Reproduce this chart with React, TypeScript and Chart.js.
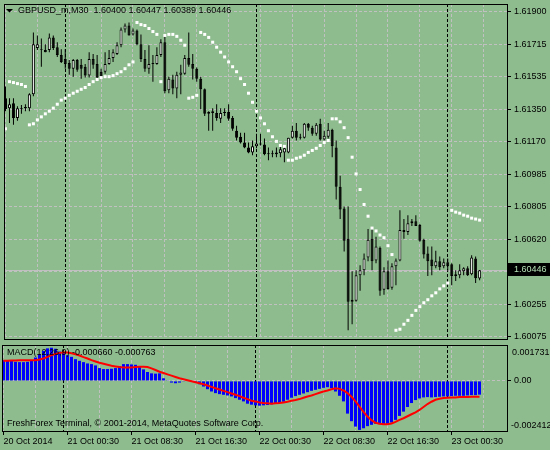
import React, { useEffect, useRef } from 'react';
import { Chart, registerables } from 'chart.js';

Chart.register(...registerables);

// ---------------- data ----------------
const titleText = 'GBPUSD_m,M30  1.60400 1.60447 1.60389 1.60446';
const macdTitle = 'MACD(12,26,9) -0.000660 -0.000763';
const copyright = 'FreshForex Terminal, \u00A9 2001-2014, MetaQuotes Software Corp.';

const xLabelIndex = [0, 16, 32, 48, 64, 80, 96, 112];
const xLabelText = ['20 Oct 2014', '21 Oct 00:30', '21 Oct 08:30', '21 Oct 16:30', '22 Oct 00:30', '22 Oct 08:30', '22 Oct 16:30', '23 Oct 00:30'];
const gridIndex = [0, 8, 16, 24, 32, 40, 48, 56, 64, 72, 80, 88, 96, 104, 112, 120];
const daySeparatorIndex = [15, 63, 111];
const xMin = -0.375;
const xMax = 125.875;

const priceTicks = [1.619, 1.61715, 1.61535, 1.6135, 1.6117, 1.60985, 1.60805, 1.6062, 1.6044, 1.60255, 1.60075];
const priceMin = 1.60059;
const priceMax = 1.61944;
const bidPrice = 1.60446;

const macdMax = 0.001731;
const macdMin = -0.002412;
const macdTicks = [0];

const opens = [
  1.61414, 1.61358, 1.61386, 1.61303, 1.61358, 1.61358, 1.61358, 1.61436, 1.61696, 1.6169,
  1.61685, 1.61685, 1.61756, 1.61701, 1.61657, 1.61635, 1.61612, 1.6158, 1.61629, 1.61602,
  1.61591, 1.61541, 1.61635, 1.61607, 1.61563, 1.61563, 1.61607, 1.6164, 1.61662, 1.61712,
  1.61801, 1.61823, 1.61773, 1.61795, 1.61718, 1.61635, 1.6158, 1.61607, 1.61607, 1.61657,
  1.61729, 1.61458, 1.61519, 1.61468, 1.61546, 1.61552, 1.6164, 1.61607, 1.6158, 1.61524,
  1.61464, 1.61326, 1.6133, 1.6133, 1.61298, 1.61336, 1.61336, 1.61303, 1.61231, 1.61197,
  1.61165, 1.61137, 1.61109, 1.61143, 1.61159, 1.61154, 1.61104, 1.61104, 1.61098, 1.61104,
  1.61109, 1.61109, 1.61192, 1.61231, 1.61192, 1.61192, 1.6127, 1.61248, 1.61214, 1.6127,
  1.61182, 1.61197, 1.61236, 1.61137, 1.60915, 1.60794, 1.60623, 1.6028, 1.60274, 1.60418,
  1.60446, 1.60517, 1.60623, 1.60501, 1.60573, 1.60336, 1.6044, 1.60347, 1.60468, 1.60501,
  1.60672, 1.60661, 1.60711, 1.60722, 1.607, 1.60618, 1.6054, 1.60506, 1.60468, 1.60496,
  1.60468, 1.60491, 1.60479, 1.60413, 1.60418, 1.6044, 1.60457, 1.60424, 1.60512, 1.604,
];
const highs = [
  1.6148, 1.61414, 1.61414, 1.61369, 1.61375, 1.6138, 1.61442, 1.61784, 1.61767, 1.6175,
  1.61718, 1.61778, 1.61767, 1.61729, 1.6169, 1.6169, 1.61629, 1.61635, 1.61635, 1.61635,
  1.61607, 1.61673, 1.61662, 1.61657, 1.6158, 1.61673, 1.61685, 1.6169, 1.61729, 1.61812,
  1.61834, 1.6184, 1.61806, 1.61801, 1.61773, 1.61685, 1.61712, 1.61657, 1.61701, 1.61745,
  1.61773, 1.61535, 1.61546, 1.61563, 1.61602, 1.61657, 1.61784, 1.61662, 1.61586, 1.61535,
  1.61468, 1.61341, 1.61358, 1.6138, 1.61358, 1.61358, 1.6138, 1.61314, 1.61259, 1.6122,
  1.6122, 1.61165, 1.61176, 1.61214, 1.61214, 1.61187, 1.61137, 1.6112, 1.61137, 1.61148,
  1.61148, 1.61192, 1.61259, 1.61275, 1.61214, 1.61275, 1.61275, 1.61259, 1.61275, 1.61298,
  1.61231, 1.61275, 1.61242, 1.61176, 1.60977, 1.60805, 1.60805, 1.6044, 1.60446, 1.60474,
  1.6054, 1.60678, 1.60678, 1.60634, 1.60579, 1.60463, 1.60501, 1.60485, 1.60512, 1.60783,
  1.60734, 1.60756, 1.60734, 1.60756, 1.60706, 1.60623, 1.60579, 1.60579, 1.60556, 1.60523,
  1.60512, 1.60512, 1.60485, 1.60446, 1.60479, 1.60463, 1.60468, 1.6053, 1.60523, 1.60447,
];
const lows = [
  1.61341, 1.61275, 1.61264, 1.61287, 1.61326, 1.61341, 1.61341, 1.61425, 1.61685, 1.61591,
  1.61673, 1.61673, 1.61685, 1.61646, 1.61612, 1.6158, 1.61546, 1.61535, 1.61563, 1.61524,
  1.6153, 1.6153, 1.6158, 1.61519, 1.6153, 1.61552, 1.61602, 1.61618, 1.61657, 1.61701,
  1.61784, 1.61767, 1.61767, 1.61712, 1.61618, 1.61563, 1.61552, 1.61507, 1.61602, 1.61646,
  1.61442, 1.61442, 1.61436, 1.61414, 1.61436, 1.61546, 1.61591, 1.61519, 1.61507, 1.61352,
  1.61314, 1.61231, 1.61231, 1.61287, 1.61275, 1.61314, 1.61287, 1.61231, 1.61176, 1.61159,
  1.61132, 1.61104, 1.61093, 1.61132, 1.61148, 1.61093, 1.61065, 1.61082, 1.61082, 1.61082,
  1.61054, 1.61104, 1.61187, 1.61176, 1.61182, 1.61187, 1.61231, 1.61203, 1.61203, 1.61176,
  1.61176, 1.61187, 1.61082, 1.60844, 1.60734, 1.60551, 1.60108, 1.60142, 1.60269, 1.6033,
  1.60418, 1.60496, 1.60446, 1.60485, 1.60302, 1.60308, 1.60336, 1.60336, 1.60362, 1.60496,
  1.60623, 1.60644, 1.60695, 1.60695, 1.60606, 1.60512, 1.60413, 1.60418, 1.60457, 1.60446,
  1.60457, 1.6044, 1.60362, 1.60385, 1.60401, 1.60418, 1.60413, 1.60418, 1.60374, 1.60389,
];
const closes = [
  1.61352, 1.6138, 1.61303, 1.61358, 1.61352, 1.61364, 1.61436, 1.61718, 1.61718, 1.61685,
  1.61673, 1.61756, 1.61696, 1.61657, 1.61618, 1.61607, 1.6158, 1.61629, 1.61574, 1.6158,
  1.61541, 1.61635, 1.61602, 1.6153, 1.61535, 1.61607, 1.6164, 1.61673, 1.61712, 1.61801,
  1.61823, 1.61767, 1.61795, 1.61718, 1.61635, 1.6158, 1.61607, 1.61612, 1.61657, 1.61729,
  1.61453, 1.61524, 1.61468, 1.61546, 1.61558, 1.6164, 1.61602, 1.6158, 1.61524, 1.61464,
  1.61326, 1.61336, 1.61341, 1.61303, 1.6133, 1.6133, 1.61298, 1.61242, 1.61192, 1.61165,
  1.61137, 1.61109, 1.61143, 1.61159, 1.61154, 1.61098, 1.61098, 1.61098, 1.61109, 1.61126,
  1.61132, 1.61192, 1.61231, 1.61192, 1.61197, 1.6127, 1.61248, 1.61214, 1.61264, 1.61182,
  1.61203, 1.61236, 1.61143, 1.60915, 1.60788, 1.60612, 1.60269, 1.60269, 1.60418, 1.60446,
  1.60512, 1.60618, 1.60496, 1.60579, 1.6033, 1.6044, 1.60341, 1.60468, 1.60501, 1.60672,
  1.60661, 1.60711, 1.60722, 1.60695, 1.60612, 1.60534, 1.60496, 1.60468, 1.60496, 1.60463,
  1.60491, 1.60468, 1.60413, 1.60424, 1.60446, 1.60457, 1.60418, 1.60517, 1.60401, 1.60446,
];
const sar = [
  1.61242, 1.61507, 1.61502, 1.61496, 1.61491, 1.6148, 1.61264, 1.6127, 1.61292, 1.61309,
  1.61326, 1.61341, 1.61358, 1.6138, 1.61403, 1.61414, 1.6143, 1.61442, 1.61453, 1.61464,
  1.61474, 1.61491, 1.61507, 1.61519, 1.6153, 1.61535, 1.61535, 1.61541, 1.61552, 1.61563,
  1.6158, 1.61602, 1.61618, 1.6184, 1.61828, 1.61823, 1.61806, 1.61789, 1.61773, 1.61507,
  1.61767, 1.61773, 1.61773, 1.61762, 1.6174, 1.61712, 1.61414, 1.61419, 1.6143, 1.61784,
  1.61773, 1.61756, 1.61729, 1.61701, 1.61673, 1.61646, 1.61618, 1.61591, 1.61563, 1.61524,
  1.61491, 1.61442, 1.61391, 1.61341, 1.61303, 1.6127, 1.61231, 1.61197, 1.61171, 1.61148,
  1.61143, 1.61065, 1.61065, 1.61076, 1.61082, 1.61093, 1.61109, 1.6112, 1.61132, 1.61148,
  1.61165, 1.61176, 1.61298, 1.61298, 1.61281, 1.61248, 1.61192, 1.61082, 1.60988, 1.609,
  1.60816, 1.6075, 1.60683, 1.60667, 1.60644, 1.60629, 1.60584, 1.60534, 1.60108, 1.60114,
  1.60142, 1.60164, 1.60192, 1.6022, 1.60241, 1.60263, 1.6028, 1.60302, 1.60319, 1.60341,
  1.60358, 1.60374, 1.60783, 1.60773, 1.60767, 1.60756, 1.6075, 1.60739, 1.60734, 1.60728,
];
const macdMain = [
  0.001002, 0.001002, 0.00097, 0.000922, 0.000906, 0.000906, 0.000922, 0.001002, 0.001129, 0.001288,
  0.001447, 0.00157, 0.0016, 0.00155, 0.001415, 0.001352, 0.00124, 0.001161, 0.001049, 0.00097,
  0.000906, 0.000843, 0.000811, 0.000747, 0.00062, 0.000572, 0.000572, 0.000588, 0.00062, 0.000716,
  0.000811, 0.000811, 0.000795, 0.000779, 0.000684, 0.000557, 0.000429, 0.000366, 0.00035, 0.000366,
  0.000127, 0.000016, -0.00008, -0.000111, -0.00008, -0.000016, 0.000016, -0.000016, -0.000064, -0.000159,
  -0.00027, -0.000398, -0.000509, -0.000588, -0.000636, -0.000668, -0.0007, -0.000747, -0.000827, -0.000906,
  -0.000986, -0.001097, -0.001145, -0.001177, -0.001193, -0.001177, -0.001161, -0.001129, -0.001097, -0.001065,
  -0.001002, -0.000906, -0.000811, -0.000731, -0.000668, -0.000604, -0.000541, -0.000477, -0.000429, -0.000382,
  -0.000334, -0.000302, -0.00035, -0.000509, -0.000716, -0.000986, -0.001574, -0.00194, -0.0022, -0.00236,
  -0.00228, -0.002178, -0.002115, -0.002067, -0.002083, -0.002099, -0.002067, -0.002003, -0.001876, -0.001685,
  -0.001479, -0.001256, -0.001065, -0.000922, -0.000843, -0.000795, -0.000779, -0.000795, -0.000779, -0.000763,
  -0.000747, -0.000747, -0.000731, -0.000716, -0.000716, -0.000716, -0.0007, -0.000684, -0.000684, -0.00066,
];
const macdSignal = [
  0.00097, 0.00097, 0.000986, 0.000986, 0.001002, 0.001002, 0.001002, 0.001002, 0.001002, 0.001034,
  0.001081, 0.001161, 0.00124, 0.001304, 0.001352, 0.001367, 0.001367, 0.001336, 0.001288, 0.001224,
  0.001145, 0.001081, 0.001002, 0.000938, 0.000875, 0.000827, 0.000779, 0.000731, 0.0007, 0.000668,
  0.000652, 0.000652, 0.000652, 0.000668, 0.000684, 0.000684, 0.000668, 0.000604, 0.000525, 0.000445,
  0.000382, 0.000318, 0.000254, 0.000191, 0.000127, 0.00008, 0.000032, -0.000016, -0.000064, -0.000111,
  -0.000159, -0.000223, -0.000286, -0.00035, -0.000413, -0.000477, -0.000541, -0.000604, -0.000668, -0.000731,
  -0.000811, -0.000875, -0.000954, -0.000986, -0.001034, -0.001065, -0.001081, -0.001097, -0.001081, -0.001065,
  -0.001034, -0.001002, -0.000954, -0.000922, -0.000875, -0.000811, -0.000747, -0.0007, -0.000636, -0.000572,
  -0.000509, -0.000461, -0.000398, -0.00035, -0.000382, -0.000461, -0.000588, -0.000763, -0.000986, -0.00124,
  -0.001495, -0.001717, -0.001892, -0.002019, -0.002067, -0.002083, -0.002083, -0.002051, -0.001972, -0.001876,
  -0.001797, -0.001701, -0.001606, -0.001511, -0.001399, -0.001256, -0.001113, -0.001002, -0.000906, -0.000859,
  -0.000827, -0.000811, -0.000795, -0.000795, -0.000779, -0.000779, -0.000779, -0.000763, -0.000763, -0.000763,
];

// ---------------- style ----------------
const BG = '#8fbc8f';
const GRID = '#c0c0c0';
const FONT = "'Liberation Sans', Arial, sans-serif";
const FONT_PX = 9;

function makeX(showLabels: boolean): any {
  return {
    type: 'linear',
    min: xMin,
    max: xMax,
    offset: false,
    afterBuildTicks: (s: any) => {
      s.ticks = gridIndex.map((v) => ({ value: v }));
    },
    afterFit: (s: any) => {
      s.height = showLabels ? 19 : 0;
      s.paddingLeft = 0;
      s.paddingRight = 0;
    },
    grid: {
      offset: false,
      color: GRID,
      lineWidth: 1,
      drawTicks: showLabels,
      tickLength: 4,
      tickWidth: 1,
      tickColor: (c: any) => (c.tick && xLabelIndex.indexOf(c.tick.value) >= 0 ? '#000' : 'rgba(0,0,0,0)'),
    },
    border: { display: false, dash: [3, 2] },
    ticks: {
      display: showLabels,
      autoSkip: false,
      maxRotation: 0,
      minRotation: 0,
      align: 'start',
      padding: 1,
      color: '#000',
      font: { family: FONT, size: FONT_PX },
      callback: (v: any) => {
        const k = xLabelIndex.indexOf(Number(v));
        return k >= 0 ? xLabelText[k] : '';
      },
    },
  };
}

function drawSeparators(chart: any) {
  const { ctx, chartArea: a, scales } = chart;
  ctx.save();
  ctx.strokeStyle = '#000';
  ctx.lineWidth = 1;
  ctx.setLineDash([3, 2]);
  daySeparatorIndex.forEach((i) => {
    const x = Math.round(scales.x.getPixelForValue(i) - 0.5) + 0.5;
    ctx.beginPath();
    ctx.moveTo(x, a.top);
    ctx.lineTo(x, a.bottom);
    ctx.stroke();
  });
  ctx.restore();
}

function drawFrame(chart: any) {
  const { ctx, chartArea: a } = chart;
  ctx.save();
  ctx.strokeStyle = '#000';
  ctx.lineWidth = 1;
  ctx.setLineDash([]);
  ctx.strokeRect(a.left + 0.5, a.top + 0.5, a.right - a.left, a.bottom - a.top);
  ctx.restore();
}

const mainDecor = {
  id: 'mainDecor',
  beforeDatasetsDraw(chart: any) {
    drawSeparators(chart);
    const { ctx, chartArea: a, scales } = chart;
    const y = Math.round(scales.y.getPixelForValue(bidPrice) - 0.5) + 0.5;
    ctx.save();
    ctx.strokeStyle = GRID;
    ctx.lineWidth = 1;
    ctx.beginPath();
    ctx.moveTo(a.left, y);
    ctx.lineTo(a.right, y);
    ctx.stroke();
    ctx.restore();
  },
  afterDraw(chart: any) {
    drawFrame(chart);
    const { ctx, chartArea: a, scales } = chart;
    ctx.save();
    // bid label
    const y = Math.round(scales.y.getPixelForValue(bidPrice));
    ctx.fillStyle = '#000';
    ctx.fillRect(a.right, y - 7, chart.width - a.right, 13);
    ctx.fillStyle = '#b4e0b4';
    ctx.font = `${FONT_PX}px ${FONT}`;
    ctx.textBaseline = 'middle';
    ctx.textAlign = 'left';
    ctx.fillText(bidPrice.toFixed(5), a.right + 7, y);
    // title
    ctx.fillStyle = '#000';
    ctx.beginPath();
    ctx.moveTo(6, 9);
    ctx.lineTo(13, 9);
    ctx.lineTo(9.5, 12.5);
    ctx.closePath();
    ctx.fill();
    ctx.fillText(titleText, 18, 10.5);
    ctx.restore();
  },
};

const macdDecor = {
  id: 'macdDecor',
  beforeDatasetsDraw(chart: any) {
    drawSeparators(chart);
  },
  afterDraw(chart: any) {
    drawFrame(chart);
    const { ctx, chartArea: a } = chart;
    ctx.save();
    ctx.fillStyle = '#000';
    ctx.font = `${FONT_PX}px ${FONT}`;
    ctx.textBaseline = 'middle';
    ctx.textAlign = 'left';
    ctx.fillText(macdTitle, 7, a.top + 8);
    ctx.fillText(copyright, 7, a.bottom - 7.5);
    ctx.fillText(macdMax.toFixed(6), a.right + 5, a.top + 8);
    ctx.fillText(macdMin.toFixed(6), a.right + 4, a.bottom - 5);
    ctx.restore();
  },
};

export default function App() {
  const mainRef = useRef<HTMLCanvasElement>(null);
  const macdRef = useRef<HTMLCanvasElement>(null);

  useEffect(() => {
    Chart.defaults.font.family = FONT;
    Chart.defaults.font.size = FONT_PX;
    Chart.defaults.color = '#000';

    const common: any = {
      responsive: false,
      animation: false,
      devicePixelRatio: 1,
      events: [],
      plugins: { legend: { display: false }, tooltip: { enabled: false } },
    };

    const main = new Chart(mainRef.current as HTMLCanvasElement, {
      type: 'bar',
      data: {
        datasets: [
          {
            type: 'line',
            label: 'Parabolic SAR',
            data: sar.map((v, i) => ({ x: i, y: v })),
            showLine: false,
            pointStyle: 'rect',
            pointRadius: 2.13,
            pointBackgroundColor: '#ffffff',
            pointBorderColor: '#ffffff',
            pointBorderWidth: 0,
          } as any,
          {
            type: 'bar',
            label: 'Body',
            data: opens.map((o, i) => ({ x: i, y: [o, closes[i]] })),
            backgroundColor: opens.map((o, i) => (closes[i] >= o ? '#ffffff' : '#000000')),
            borderColor: '#000000',
            borderWidth: 1,
            borderSkipped: false,
            barThickness: 3,
            grouped: false,
            inflateAmount: 0,
          } as any,
          {
            type: 'bar',
            label: 'Wick',
            data: lows.map((l, i) => ({ x: i, y: [l, highs[i]] })),
            backgroundColor: '#000000',
            borderWidth: 0,
            barThickness: 1,
            grouped: false,
            inflateAmount: 0,
          } as any,
        ],
      },
      options: {
        ...common,
        layout: { padding: { left: 2, top: 1, right: 0, bottom: 1 } },
        scales: {
          x: makeX(false),
          y: {
            type: 'linear',
            position: 'right',
            min: priceMin,
            max: priceMax,
            beginAtZero: false,
            afterBuildTicks: (s: any) => {
              s.ticks = priceTicks.map((v) => ({ value: v }));
            },
            afterFit: (s: any) => {
              s.width = 43;
              s.paddingTop = 0;
              s.paddingBottom = 0;
            },
            grid: { color: GRID, lineWidth: 1, drawTicks: true, tickLength: 4, tickColor: '#000' },
            border: { display: false, dash: [3, 2] },
            ticks: {
              autoSkip: false,
              padding: 3,
              color: '#000',
              font: { family: FONT, size: FONT_PX },
              callback: (v: any) => Number(v).toFixed(5),
            },
          },
        },
      } as any,
      plugins: [mainDecor],
    });

    const macd = new Chart(macdRef.current as HTMLCanvasElement, {
      type: 'bar',
      data: {
        datasets: [
          {
            type: 'line',
            label: 'Signal',
            data: macdSignal.map((v, i) => ({ x: i, y: v })),
            borderColor: '#ff0000',
            borderWidth: 2,
            pointRadius: 0,
            tension: 0,
          } as any,
          {
            type: 'bar',
            label: 'MACD',
            data: macdMain.map((v, i) => ({ x: i, y: v })),
            backgroundColor: '#0000ff',
            borderWidth: 0,
            barThickness: 3,
            grouped: false,
            inflateAmount: 0,
          } as any,
        ],
      },
      options: {
        ...common,
        layout: { padding: { left: 2, top: 2, right: 0, bottom: 0 } },
        scales: {
          x: makeX(true),
          y: {
            type: 'linear',
            position: 'right',
            min: macdMin,
            max: macdMax,
            beginAtZero: false,
            afterBuildTicks: (s: any) => {
              s.ticks = macdTicks.map((v) => ({ value: v }));
            },
            afterFit: (s: any) => {
              s.width = 43;
              s.paddingTop = 0;
              s.paddingBottom = 0;
            },
            grid: { color: GRID, lineWidth: 1, drawTicks: true, tickLength: 4, tickColor: '#000' },
            border: { display: false, dash: [3, 2] },
            ticks: {
              autoSkip: false,
              padding: 3,
              color: '#000',
              font: { family: FONT, size: FONT_PX },
              callback: (v: any) => Number(v).toFixed(2),
            },
          },
        },
      } as any,
      plugins: [macdDecor],
    });

    return () => {
      main.destroy();
      macd.destroy();
    };
  }, []);

  return (
    <div style={{ position: 'fixed', left: 0, top: 0, width: 550, height: 450, background: BG, overflow: 'hidden' }}>
      <canvas ref={mainRef} width={550} height={343} style={{ position: 'absolute', left: 0, top: 0, width: 550, height: 343 }} />
      <canvas ref={macdRef} width={550} height={107} style={{ position: 'absolute', left: 0, top: 343, width: 550, height: 107 }} />
    </div>
  );
}
